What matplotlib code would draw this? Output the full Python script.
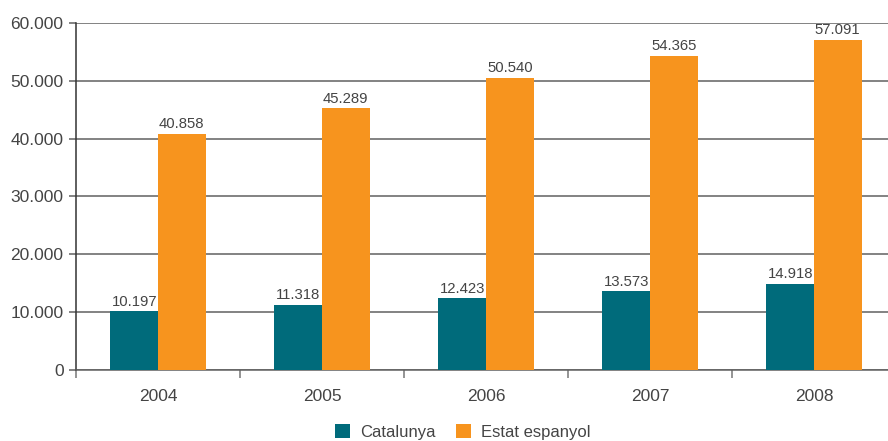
import numpy as np
import matplotlib.pyplot as plt
from matplotlib.ticker import FuncFormatter, FixedLocator

# Dades
anys = ["2004", "2005", "2006", "2007", "2008"]
catalunya = [10197, 11318, 12423, 13573, 14918]
estat_espanyol = [40858, 45289, 50540, 54365, 57091]

teal = "#006b7b"
orange = "#f7941e"
grey = "#444444"

plt.rcParams['font.family'] = ['Liberation Sans', 'DejaVu Sans']

def punts(v):
    return f"{int(round(v)):,}".replace(",", ".")

fig = plt.figure(figsize=(8.88, 4.41), dpi=100)
# l'eix continua una mica més enllà de la vora dreta
ax = fig.add_axes([0.0856, 0.161, 0.9234, 0.787])

x = np.arange(len(anys))
w = 0.29
b1 = ax.bar(x - w / 2, catalunya, w, color=teal, label="Catalunya", zorder=3)
b2 = ax.bar(x + w / 2, estat_espanyol, w, color=orange, label="Estat espanyol", zorder=3)

for bars in (b1, b2):
    for r in bars:
        ax.text(r.get_x() + r.get_width() / 2, r.get_height() + 400, punts(r.get_height()),
                ha="center", va="bottom", fontsize=10.7, color=grey)

ax.set_xlim(-0.5, len(anys) - 0.5)
ax.set_ylim(0, 60000)
ax.set_yticks(np.arange(0, 60001, 10000))
ax.yaxis.set_major_formatter(FuncFormatter(lambda v, p: punts(v)))
ax.grid(axis="y", color="#606060", linewidth=1.1, zorder=0)

ax.set_xticks(x)
ax.set_xticklabels(anys)
ax.xaxis.set_minor_locator(FixedLocator(np.arange(-0.5, len(anys), 1.0)))
ax.tick_params(axis="x", which="major", length=0, pad=14, labelsize=12.5, labelcolor=grey)
ax.tick_params(axis="x", which="minor", length=6, width=1.1, color="#777777")
ax.tick_params(axis="y", length=5, width=1.1, color="#606060", labelsize=12.5, labelcolor=grey, pad=4)

for s in ("top", "right"):
    ax.spines[s].set_visible(False)
ax.spines["left"].set_color("#333333")
ax.spines["bottom"].set_color("#606060")
for s in ("left", "bottom"):
    ax.spines[s].set_linewidth(1.1)

fig.legend(handles=[b1, b2], loc="center", bbox_to_anchor=(0.521, 0.02), ncol=2, frameon=False,
           fontsize=12, handlelength=0.9, handleheight=0.9, columnspacing=1.2, handletextpad=0.6,
           labelcolor=grey)

fig.savefig("out.png", dpi=100)
